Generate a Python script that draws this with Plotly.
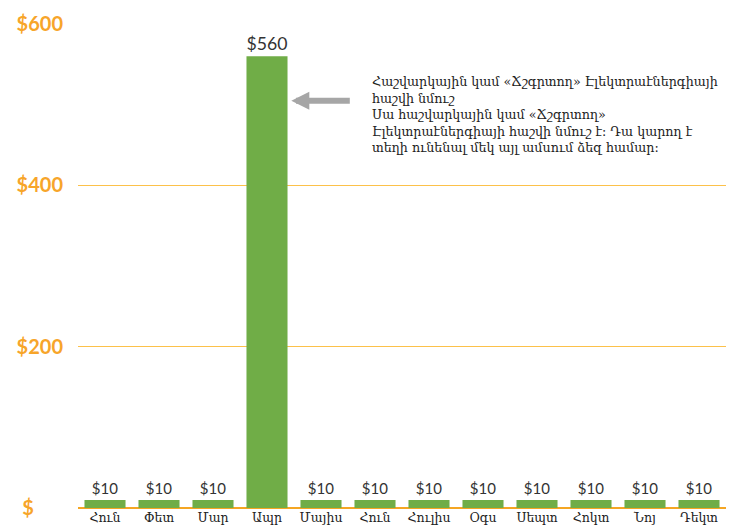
import plotly.graph_objects as go

months = ["Հուն", "Փետ", "Մար", "Ապր", "Մայիս", "Հուն", "Հուլիս", "Օգս", "Սեպտ", "Հոկտ", "Նոյ", "Դեկտ"]
amounts = [10, 10, 10, 560, 10, 10, 10, 10, 10, 10, 10, 10]
y_ticks = [0, 200, 400, 600]
y_tick_labels = ["$\u00a0\u00a0\u00a0\u00a0\u00a0\u00a0", "$200", "$400", "$600"]
note_lines = [
    "Հաշվարկային կամ «Ճշգրտող» Էլեկտրաէներգիայի",
    "հաշվի նմուշ",
    "Սա հաշվարկային կամ «Ճշգրտող»",
    "Էլեկտրաէներգիայի հաշվի նմուշ է: Դա կարող է",
    "տեղի ունենալ մեկ այլ ամսում ձեզ համար:",
]

xs = list(range(len(months)))
labels = ["$" + str(v) for v in amounts]
sizes = [20 if v == max(amounts) else 15 for v in amounts]

fig = go.Figure()
fig.add_trace(go.Bar(
    x=xs, y=amounts, width=0.76,
    marker=dict(color="#70AD47", line=dict(width=0)),
    text=labels, textposition="outside", cliponaxis=False,
    textfont=dict(family="Lato, DejaVu Sans, sans-serif", size=sizes, color="#333333"),
    hoverinfo="skip",
))

peak = amounts.index(max(amounts))
fig.add_annotation(
    x=peak + 0.45, y=505, xref="x", yref="y",
    ax=60, ay=0, axref="pixel", ayref="pixel",
    text="", showarrow=True, arrowhead=2, arrowsize=0.6, arrowwidth=6,
    arrowcolor="#A6A6A6",
)
fig.add_annotation(
    x=(370 - 78) / 648, y=(508 - 72) / 484, xref="paper", yref="paper",
    xanchor="left", yanchor="top", align="left", showarrow=False,
    text="<br>".join(note_lines),
    font=dict(family="DejaVu Serif, serif", size=12.7, color="#222222"),
)

fig.update_layout(
    width=736, height=531,
    margin=dict(l=70, r=18, t=16, b=31, autoexpand=False),
    plot_bgcolor="white", paper_bgcolor="white",
    showlegend=False,
    xaxis=dict(
        tickmode="array", tickvals=xs, ticktext=months,
        range=[-0.5, len(months) - 0.5], automargin=False,
        showgrid=False, zeroline=False, showline=False, ticks="",
        tickfont=dict(family="DejaVu Serif, serif", size=12.5, color="#222222"),
    ),
    yaxis=dict(
        range=[0, 600], tickmode="array", tickvals=y_ticks, ticktext=y_tick_labels,
        automargin=False,
        showgrid=True, gridcolor="#FCC14A", gridwidth=1,
        zeroline=True, zerolinecolor="#F5A623", zerolinewidth=2,
        showline=False, ticks="",
        tickfont=dict(family="Lato, Open Sans, sans-serif", size=20, color="#F7A52A", weight="bold"),
        ticklabelstandoff=14,
    ),
)

fig.write_html("out.html")
